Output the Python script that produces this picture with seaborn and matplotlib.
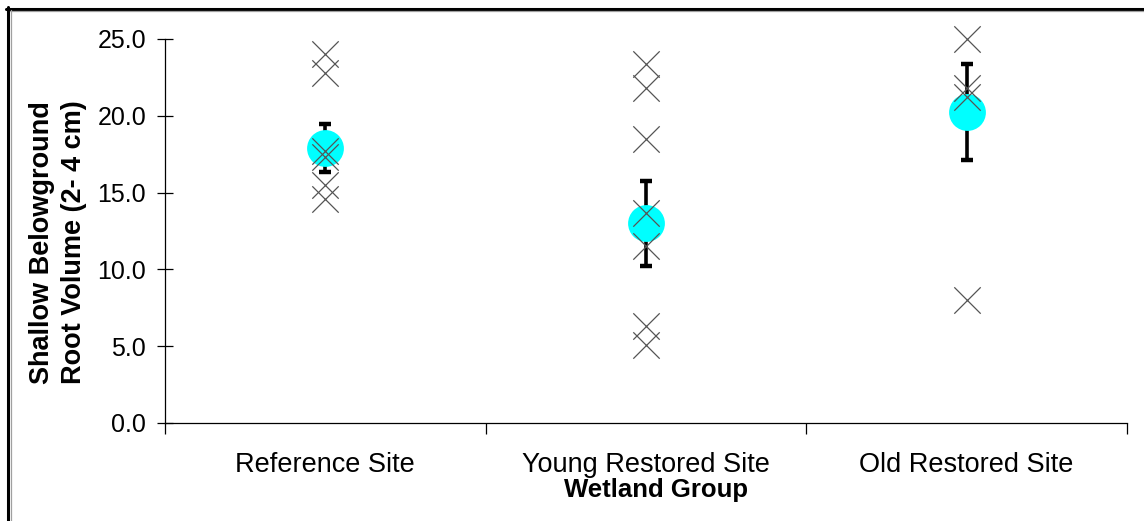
import numpy as np
import pandas as pd
import matplotlib
matplotlib.use("Agg")
import matplotlib.pyplot as plt
from matplotlib.lines import Line2D
import seaborn as sns

# Wetland groups and individual plot measurements
groups = ["Reference Site", "Young Restored Site", "Old Restored Site"]
ref_values = [24.0, 22.8, 17.7, 17.3, 15.5, 14.6]
young_values = [23.4, 21.8, 18.5, 13.7, 11.5, 6.3, 5.1]
old_values = [25.0, 21.8, 21.2, 8.0]

# Group means and standard errors
group_means = [17.9, 13.0, 20.25]
group_se = [1.55, 2.75, 3.15]

y_ticks = [0, 5, 10, 15, 20, 25]

sns.set_theme(style="white")
plt.rcParams["font.family"] = ["Liberation Sans", "DejaVu Sans"]

samples = pd.DataFrame({
    "group": ([groups[0]] * len(ref_values) + [groups[1]] * len(young_values)
              + [groups[2]] * len(old_values)),
    "volume": ref_values + young_values + old_values,
})
summary = pd.DataFrame({"group": groups, "mean": group_means, "se": group_se})

W, H = 1144, 521
fig = plt.figure(figsize=(W / 100, H / 100), dpi=100)
fig.patch.set_facecolor("white")
ax = fig.add_axes([165 / W, 1 - 423 / H, (1127 - 165) / W, (423 - 39) / H])

# Standard error bars behind the mean markers
ax.errorbar(np.arange(len(groups)), summary["mean"], yerr=summary["se"],
            fmt="none", ecolor="black", elinewidth=2.6, capsize=4.3,
            capthick=3.2, zorder=2, clip_on=False)

# Group means
sns.pointplot(data=summary, x="group", y="mean", order=groups,
              color="#00FFFF", markers="o", linestyles="none",
              markersize=26.5, markeredgewidth=0, errorbar=None, ax=ax,
              zorder=3)

# Individual measurements
sns.stripplot(data=samples, x="group", y="volume", order=groups,
              jitter=False, marker="x", color="#555555", size=19,
              linewidth=0.9, ax=ax, zorder=4, clip_on=False)

ax.set_ylim(0, 25)
ax.set_xlim(-0.5, len(groups) - 0.5)
ax.set_yticks(y_ticks)
ax.set_yticklabels([f"{v:.1f}" for v in y_ticks])

ax.set_xticks(np.arange(len(groups) + 1) - 0.5)
ax.set_xticklabels([""] * (len(groups) + 1))
ax.set_xticks(np.arange(len(groups)), minor=True)
ax.set_xticklabels(groups, minor=True)

for side in ("top", "right"):
    ax.spines[side].set_visible(False)
for side in ("left", "bottom"):
    ax.spines[side].set_color("black")
    ax.spines[side].set_linewidth(0.9)

ax.tick_params(axis="y", which="major", direction="inout", length=11,
               width=0.9, color="black", labelsize=18, pad=8,
               labelcolor="black", left=True)
ax.tick_params(axis="x", which="major", direction="out", length=8,
               width=0.9, color="black", bottom=True)
ax.tick_params(axis="x", which="minor", length=0, labelsize=19.5, pad=21,
               labelcolor="black")

ax.set_xlabel("Wetland Group", fontsize=18.5, fontweight="bold",
              color="black")
ax.xaxis.set_label_coords(0.51, -0.143)
ax.set_ylabel("Shallow Belowground\nRoot Volume (2- 4 cm)", fontsize=19.5,
              fontweight="bold", color="black", linespacing=1.3)
ax.yaxis.set_label_coords(-0.081, 0.47)

# Page frame along the top and left edges
fig.add_artist(Line2D([7.5 / W, 7.5 / W], [0, 1 - 7 / H],
                      transform=fig.transFigure, color="black", lw=2.2))
fig.add_artist(Line2D([6 / W, 1], [1 - 8.5 / H, 1 - 8.5 / H],
                      transform=fig.transFigure, color="black", lw=2.2))
fig.add_artist(Line2D([10.8 / W, 10.8 / W], [0, 1 - 10 / H],
                      transform=fig.transFigure, color="#a0a0a0", lw=0.9))
fig.add_artist(Line2D([10 / W, 1], [1 - 10.8 / H, 1 - 10.8 / H],
                      transform=fig.transFigure, color="#a0a0a0", lw=0.9))

fig.savefig("out.png", dpi=100)
